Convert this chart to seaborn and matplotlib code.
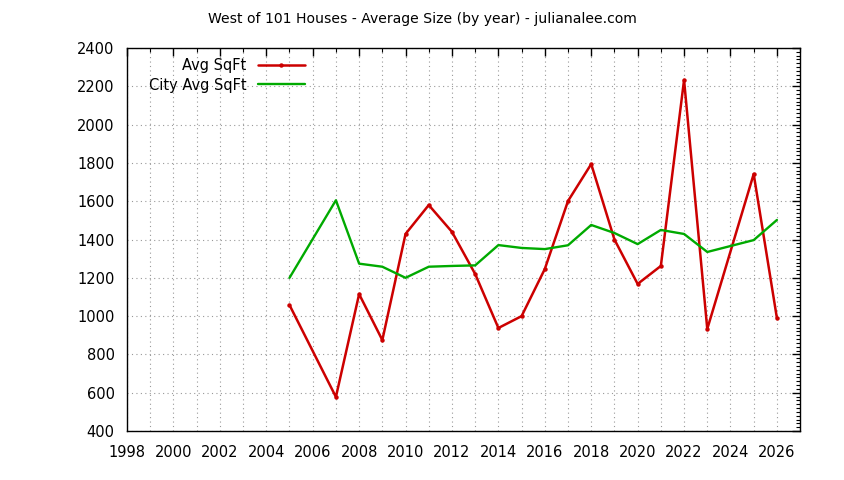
import pandas as pd
import matplotlib.pyplot as plt
import matplotlib.ticker as mticker
import seaborn as sns

# dados
anos_avg = [2005, 2007, 2008, 2009, 2010, 2011, 2012, 2013, 2014, 2015, 2016,
            2017, 2018, 2019, 2020, 2021, 2022, 2023, 2025, 2026]
avg_sqft = [1058, 578, 1115, 875, 1429, 1580, 1440, 1220, 938, 1000, 1246,
            1601, 1794, 1400, 1168, 1262, 2233, 933, 1742, 990]

anos_city = [2005, 2007, 2008, 2009, 2010, 2011, 2012, 2013, 2014, 2015, 2016,
             2017, 2018, 2019, 2020, 2021, 2022, 2023, 2024, 2025, 2026]
city_sqft = [1200, 1605, 1274, 1258, 1200, 1258, 1262, 1265, 1371, 1356, 1350,
             1370, 1476, 1434, 1376, 1450, 1429, 1335, 1366, 1397, 1502]

titulo = "West of 101 Houses - Average Size (by year) - julianalee.com"

sns.set_theme(style="white")
plt.rcParams['font.family'] = ['DejaVu Sans']
plt.rcParams['text.color'] = 'black'

df_avg = pd.DataFrame({"Ano": anos_avg, "SqFt": avg_sqft})
df_city = pd.DataFrame({"Ano": anos_city, "SqFt": city_sqft})

fig = plt.figure(figsize=(8.44, 4.8), dpi=100)
ax = fig.add_axes([0.1505, 0.102, 0.7975, 0.798])

sns.lineplot(data=df_avg, x="Ano", y="SqFt", ax=ax, color="#cc0000",
             linewidth=1.8, marker="o", markersize=3.2, markeredgewidth=0,
             label="Avg SqFt")
sns.lineplot(data=df_city, x="Ano", y="SqFt", ax=ax, color="#00aa00",
             linewidth=1.7, label="City Avg SqFt")

ax.set_xlim(1998, 2027)
ax.set_ylim(400, 2400)
ax.xaxis.set_major_locator(mticker.MultipleLocator(2))
ax.xaxis.set_minor_locator(mticker.MultipleLocator(1))
ax.yaxis.set_major_locator(mticker.MultipleLocator(200))
ax.yaxis.set_minor_locator(mticker.MultipleLocator(20))
ax.set_xlabel("")
ax.set_ylabel("")

estilo_grade = dict(linestyle=(0, (1, 3)), color="#999999", linewidth=0.8)
ax.grid(True, which="major", axis="y", **estilo_grade)
ax.grid(True, which="both", axis="x", **estilo_grade)

for lado in ax.spines.values():
    lado.set_color("black")
    lado.set_linewidth(1.0)

ax.tick_params(which="both", direction="in", top=True, right=True, colors="black",
               labelsize=10.5)
ax.tick_params(which="major", length=6, width=1)
ax.tick_params(which="minor", length=3, width=0.8)
ax.tick_params(axis="y", pad=9)
ax.tick_params(axis="x", pad=10)

leg = ax.legend(loc="upper left", bbox_to_anchor=(0.017, 1.0), frameon=False,
                markerfirst=False, fontsize=10.5, handlelength=3.2,
                borderaxespad=0.3, labelspacing=0.3)
for t in leg.get_texts():
    t.set_ha("right")
    t.set_color("black")
leg._legend_box.align = "right"

fig.suptitle(titulo, x=0.5, y=0.975, fontsize=10.1, color="black")

fig.savefig("out.png", dpi=100)
